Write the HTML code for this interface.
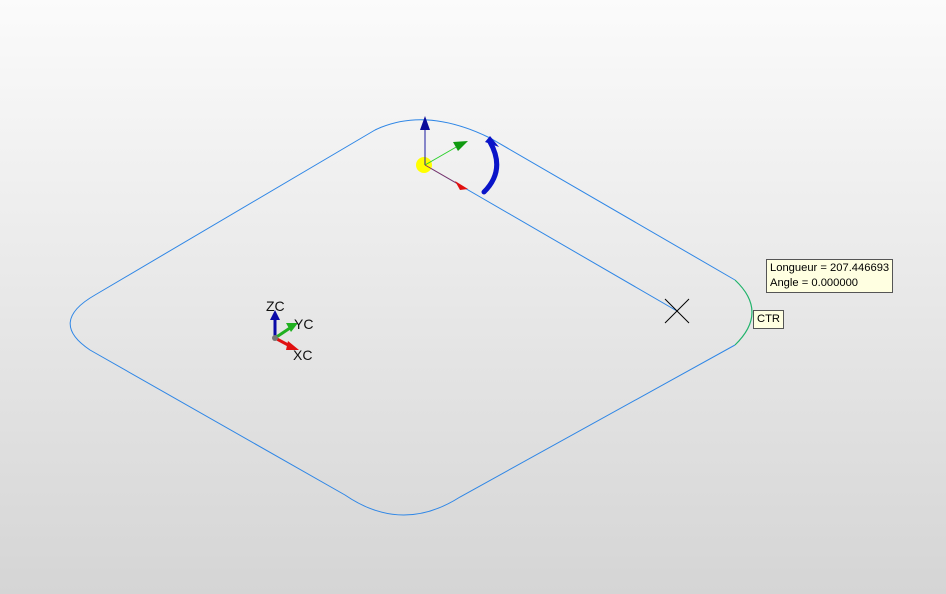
<!DOCTYPE html>
<html><head><meta charset="utf-8"><style>
html,body{margin:0;padding:0;}
body{width:946px;height:594px;overflow:hidden;background:linear-gradient(#fbfbfb,#d5d5d5);font-family:"Liberation Sans",sans-serif;}
.tip{position:absolute;background:#ffffe1;border:1px solid #555;font-size:11.2px;color:#000;line-height:15px;padding:1px 3px;}
</style></head><body>
<svg width="946" height="594" style="position:absolute;left:0;top:0">
<path d="M375,130 Q425,106 490,138 L735,280 M735,345 L460,497 Q402,534 345,495 L90,350 Q48,322 95,295 L375,130" fill="none" stroke="#2e86e6" stroke-width="1"/>
<path d="M735,280 Q769,312 735,345" fill="none" stroke="#1fb36a" stroke-width="1.2"/>
<line x1="425" y1="165" x2="677" y2="311" stroke="#2e86e6" stroke-width="1"/>
<g stroke="#000" stroke-width="1">
<line x1="665" y1="299" x2="689" y2="323"/><line x1="689" y1="299" x2="665" y2="323"/></g>
<g>
<circle cx="424" cy="165" r="8" fill="#ffff00"/>
<line x1="425" y1="165" x2="425" y2="127" stroke="#1a1aa0"/>
<path d="M420,130 L425,116 L430,130Z" fill="#0b0b9a"/>
<line x1="425" y1="165" x2="458" y2="146" stroke="#2ad02a"/>
<path d="M453,142 L468,141 L458,151Z" fill="#109a10"/>
<line x1="425" y1="165" x2="458" y2="184" stroke="#883060"/>
<path d="M455,181 L468,189 L460,190Z" fill="#e01010"/>
<path d="M484,192 Q506,170 490,142" fill="none" stroke="#0a14c8" stroke-width="5" stroke-linecap="round"/>
<path d="M485,142 L490,136 L499,147Z" fill="#0a14c8"/>
</g>
<g font-family="Liberation Sans" font-size="14" fill="#111">
<line x1="275" y1="338" x2="275" y2="318" stroke="#0a0aa8" stroke-width="3"/>
<path d="M270,320 L275,310 L280,320Z" fill="#0a0aa8"/>
<line x1="275" y1="338" x2="290" y2="328" stroke="#20b020" stroke-width="3"/>
<path d="M286,323 L298,323 L291,332Z" fill="#20b020"/>
<line x1="275" y1="338" x2="290" y2="346" stroke="#e01010" stroke-width="3"/>
<path d="M288,341 L299,350 L286,350Z" fill="#e01010"/>
<circle cx="275" cy="338" r="3" fill="#777"/>
<text x="266" y="311">ZC</text><text x="294" y="329">YC</text><text x="293" y="360">XC</text>
</g>
</svg>
<div class="tip" style="left:766px;top:259px;">Longueur = 207.446693<br>Angle = 0.000000</div>
<div class="tip" style="left:753px;top:310px;padding:1px 3px;">CTR</div>
</body></html>
